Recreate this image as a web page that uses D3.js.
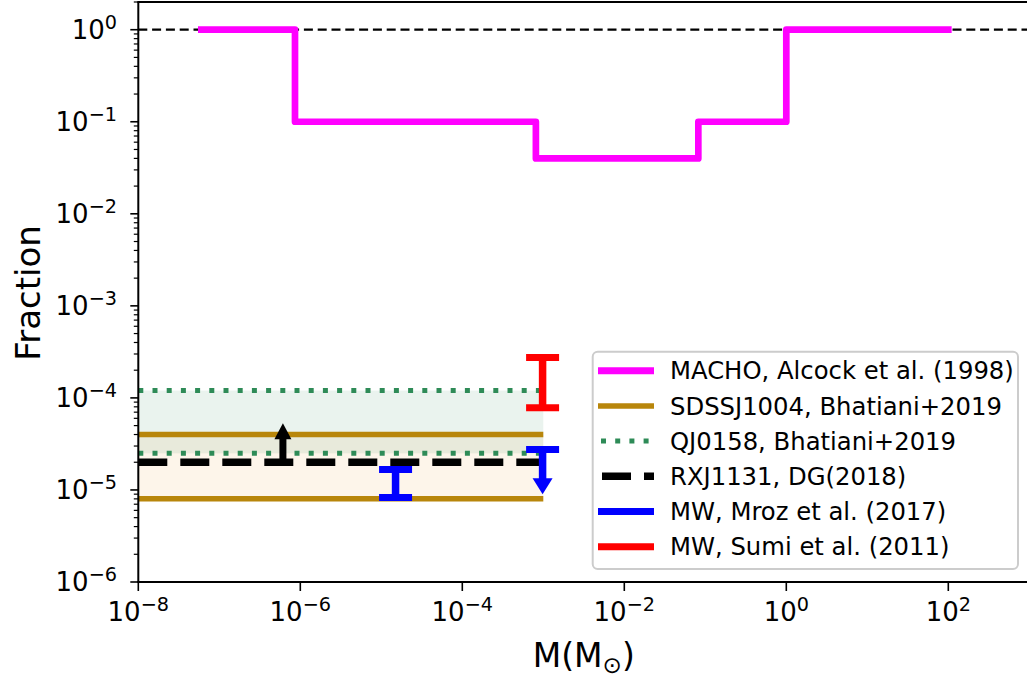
<!DOCTYPE html>
<html>
<head>
<meta charset="utf-8">
<script src="https://cdn.jsdelivr.net/npm/d3@7"></script>
<style>
  html, body { margin: 0; padding: 0; background: #fff; }
  svg { display: block; font-family: "DejaVu Sans", sans-serif; }
</style>
</head>
<body>
<svg id="chart" width="1027" height="679"></svg>
<script>
// MACHO exclusion (Alcock et al. 1998): step edges in mass and allowed fraction
const machoEdges = [6e-8, 8.6e-7, 8.1e-4, 0.082, 1, 100];
const machoFraction = [1, 0.1, 0.04, 0.1, 1, 1];

// Mass span covered by the lensing constraints
const lensMass = [1e-8, 1e-3];

// Quasar microlensing bands
const sdssBand = [8e-6, 4e-5];      // SDSSJ1004, Bhatiani+2019
const qjBand = [2.5e-5, 1.2e-4];    // QJ0158, Bhatiani+2019
const rxjLevel = 2e-5;              // RXJ1131, DG(2018)
const rxjArrow = { mass: 6.1e-7, from: 2e-5, to: 5.3e-5 };

// Milky Way microlensing
const mrozBar = { mass: 1.5e-5, low: 8.3e-6, high: 1.67e-5 };
const mrozLimit = { mass: 9.8e-4, from: 2.75e-5, to: 9e-6 };
const sumiBar = { mass: 9.8e-4, low: 7.8e-5, high: 2.75e-4 };

// Axes
const xTicks = [-8, -6, -4, -2, 0, 2];
const yTicks = [-6, -5, -4, -3, -2, -1, 0];

const legendLabels = [
  "MACHO, Alcock et al. (1998)",
  "SDSSJ1004, Bhatiani+2019",
  "QJ0158, Bhatiani+2019",
  "RXJ1131, DG(2018)",
  "MW, Mroz et al. (2017)",
  "MW, Sumi et al. (2011)"
];

const C = {
  magenta: "#ff00ff",
  gold: "#b8860b",
  green: "#2e8b57",
  blue: "#0000ff",
  red: "#ff0000",
  black: "#000000",
  sand: "#f0a030"
};

const svg = d3.select("#chart");
const L = 138.3, T = 2, B = 582, R = 138.3 + 11 * 81.0;

const x = d3.scaleLog().domain([1e-8, 1e3]).range([L, R]);
const y = d3.scaleLog().domain([1e-6, 2]).range([B, T]);

const clipId = "plot-clip";
svg.append("defs").append("clipPath").attr("id", clipId)
  .append("rect").attr("x", L).attr("y", T).attr("width", R - L).attr("height", B - T);

const plot = svg.append("g").attr("clip-path", `url(#${clipId})`);

// Shaded bands
plot.append("rect")
  .attr("x", x(lensMass[0])).attr("width", x(lensMass[1]) - x(lensMass[0]))
  .attr("y", y(sdssBand[1])).attr("height", y(sdssBand[0]) - y(sdssBand[1]))
  .attr("fill", C.sand).attr("fill-opacity", 0.1);
plot.append("rect")
  .attr("x", x(lensMass[0])).attr("width", x(lensMass[1]) - x(lensMass[0]))
  .attr("y", y(qjBand[1])).attr("height", y(qjBand[0]) - y(qjBand[1]))
  .attr("fill", C.green).attr("fill-opacity", 0.1);

function hline(v, color, width, dash) {
  const l = plot.append("line")
    .attr("x1", x(lensMass[0])).attr("x2", x(lensMass[1]))
    .attr("y1", y(v)).attr("y2", y(v))
    .attr("stroke", color).attr("stroke-width", width);
  if (dash) l.attr("stroke-dasharray", dash);
  return l;
}
sdssBand.forEach(v => hline(v, C.gold, 5.5));
qjBand.forEach(v => hline(v, C.green, 5, "5 9.2"));
hline(rxjLevel, C.black, 7.5, "29 13");

// Arrow (limit marker) from one value to another at fixed mass
function arrow(mass, from, to, color, shaftW, headW, headH) {
  const px = x(mass), y0 = y(from), y1 = y(to);
  const dir = Math.sign(y1 - y0);
  const yb = y1 - dir * headH;
  plot.append("line").attr("x1", px).attr("x2", px).attr("y1", y0).attr("y2", yb + dir * 1)
    .attr("stroke", color).attr("stroke-width", shaftW);
  plot.append("path")
    .attr("d", `M${px - headW / 2},${yb}L${px + headW / 2},${yb}L${px},${y1}Z`)
    .attr("fill", color);
}
function cap(mass, v, color, w, th) {
  plot.append("line").attr("x1", x(mass) - w / 2).attr("x2", x(mass) + w / 2)
    .attr("y1", y(v)).attr("y2", y(v)).attr("stroke", color).attr("stroke-width", th);
}
function errbar(d, color) {
  plot.append("line").attr("x1", x(d.mass)).attr("x2", x(d.mass))
    .attr("y1", y(d.low)).attr("y2", y(d.high))
    .attr("stroke", color).attr("stroke-width", 7.5);
  cap(d.mass, d.low, color, 33, 7);
  cap(d.mass, d.high, color, 33, 7);
}

arrow(rxjArrow.mass, rxjArrow.from, rxjArrow.to, C.black, 7, 17, 16);
errbar(mrozBar, C.blue);
arrow(mrozLimit.mass, mrozLimit.from, mrozLimit.to, C.blue, 7.5, 20, 16);
cap(mrozLimit.mass, mrozLimit.from, C.blue, 33, 7);
errbar(sumiBar, C.red);

// Unity reference line
plot.append("line")
  .attr("x1", L).attr("x2", R).attr("y1", y(1)).attr("y2", y(1))
  .attr("stroke", "#000").attr("stroke-width", 2.2).attr("stroke-dasharray", "9 4.8");

// MACHO step curve
const machoPts = machoEdges.map((m, i) => [m, machoFraction[i]]);
plot.append("path")
  .attr("d", d3.line().x(d => x(d[0])).y(d => y(d[1])).curve(d3.curveStepAfter)(machoPts))
  .attr("fill", "none").attr("stroke", C.magenta).attr("stroke-width", 6.7)
  .attr("stroke-linejoin", "round").attr("stroke-linecap", "square");

// Axes
const axes = svg.append("g").attr("stroke", "#000");
axes.append("line").attr("x1", L).attr("x2", L).attr("y1", T).attr("y2", B).attr("stroke-width", 2);
axes.append("line").attr("x1", L - 1).attr("x2", R).attr("y1", B).attr("y2", B).attr("stroke-width", 2);
axes.append("line").attr("x1", L - 1).attr("x2", R).attr("y1", T).attr("y2", T).attr("stroke-width", 2);

function powerLabel(sel, exp) {
  sel.append("tspan").text("10");
  sel.append("tspan").attr("font-size", "74%").attr("dy", -10)
    .text(exp < 0 ? "\u2212" + Math.abs(exp) : String(exp));
}

// x ticks
xTicks.forEach(e => {
  const px = x(Math.pow(10, e));
  axes.append("line").attr("x1", px).attr("x2", px).attr("y1", B).attr("y2", B + 9).attr("stroke-width", 1.6);
  const t = svg.append("text").attr("x", px).attr("y", 621).attr("text-anchor", "middle")
    .attr("font-size", 26).attr("fill", "#000");
  powerLabel(t, e);
});

// y ticks, major and minor
yTicks.forEach(e => {
  const py = y(Math.pow(10, e));
  axes.append("line").attr("x1", L - 8).attr("x2", L).attr("y1", py).attr("y2", py).attr("stroke-width", 1.6);
  const t = svg.append("text").attr("x", 117).attr("y", py + 9.3).attr("text-anchor", "end")
    .attr("font-size", 26).attr("fill", "#000");
  powerLabel(t, e);
  for (let k = 2; k <= 9; k++) {
    const v = k * Math.pow(10, e);
    if (v > 2) break;
    const pm = y(v);
    axes.append("line").attr("x1", L - 4.5).attr("x2", L).attr("y1", pm).attr("y2", pm).attr("stroke-width", 1.2);
  }
});

// Axis titles
svg.append("text")
  .attr("transform", `translate(40,293) rotate(-90)`)
  .attr("text-anchor", "middle").attr("font-size", 34).attr("fill", "#000")
  .text("Fraction");
const xl = svg.append("text").attr("x", (L + R) / 2).attr("y", 667)
  .attr("text-anchor", "middle").attr("font-size", 33).attr("fill", "#000");
xl.append("tspan").text("M(M");
xl.append("tspan").attr("font-size", "70%").attr("dy", 6).text("\u2299");
xl.append("tspan").attr("dy", -6).text(")");

// Legend
const lg = svg.append("g");
lg.append("rect").attr("x", 592.7).attr("y", 351.7).attr("width", 425.3).attr("height", 217.3)
  .attr("rx", 5).attr("fill", "#fff").attr("fill-opacity", 0.8)
  .attr("stroke", "#cccccc").attr("stroke-width", 2);
const handles = [
  { color: C.magenta, w: 7, dash: null },
  { color: C.gold, w: 5.5, dash: null },
  { color: C.green, w: 5, dash: "5 9.2" },
  { color: C.black, w: 7.5, dash: "29 13" },
  { color: C.blue, w: 7, dash: null },
  { color: C.red, w: 7, dash: null }
];
legendLabels.forEach((lab, i) => {
  const cy = 370.7 + i * 35.2;
  const h = handles[i];
  const l = lg.append("line").attr("x1", 598).attr("x2", 654).attr("y1", cy).attr("y2", cy)
    .attr("stroke", h.color).attr("stroke-width", h.w);
  if (h.dash) l.attr("stroke-dasharray", h.dash).attr("stroke-dashoffset", i === 2 ? -3 : -4);
  lg.append("text").attr("x", 670).attr("y", cy + 8.6).attr("font-size", 24.3).attr("fill", "#000").text(lab);
});
</script>
</body>
</html>
